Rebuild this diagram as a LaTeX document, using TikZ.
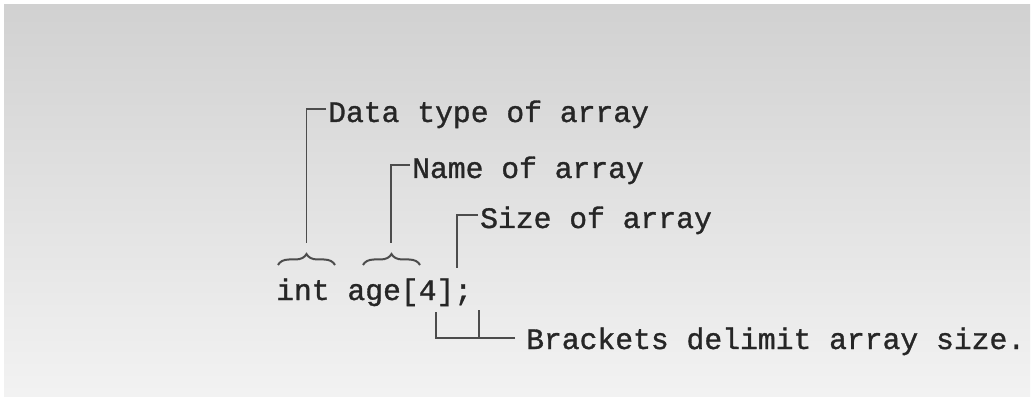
\documentclass[tikz,border=0pt]{standalone}
\usepackage{fontspec}
\newfontfamily\codefont[FakeBold=1.1]{Liberation Mono}
\usetikzlibrary{decorations.pathreplacing}
\begin{document}
\begin{tikzpicture}[x=1pt, y=-1pt,
    code/.style = {anchor=base west, inner sep=0pt, text=black!85,
                   font=\codefont\fontsize{29.7}{32}\selectfont},
    lead/.style = {draw=black!70, line width=1.8pt},
    curly/.style = {lead, line width=2pt, decorate, decoration={brace, amplitude=11pt}}]
    % Background
    \fill[white] (0,0) rectangle (1031,398);
    \shade[top color=black!18, bottom color=black!5] (4,5) rectangle (1030,396);
    \useasboundingbox (0,0) rectangle (1031,398);

    % Declaration and labels
    \node[code] (decl)  at (276,300) {int age[4];};
    \node[code] (dtype) at (328,122) {Data type of array};
    \node[code] (aname) at (412,178) {Name of array};
    \node[code] (asize) at (480,228) {Size of array};
    \node[code] (brk)   at (526,349) {Brackets delimit array size.};

    % Free ends of the leaders
    \coordinate (t1) at (306.5,243);
    \coordinate (t2) at (391,243);
    \coordinate (t3) at (456.7,268);
    \coordinate (lb) at (435.7,311.7);
    \coordinate (rb) at (479.3,310);
    \coordinate (rbf) at (479.3,338.3);

    % Braces
    \draw[curly] (278,265) -- (335,265);
    \draw[curly] (363,265) -- (420,265);

    % Leaders
    \draw[lead] ([xshift=-2pt,yshift=13pt]dtype.base west) -| (t1);
    \draw[lead] ([xshift=-2pt,yshift=13pt]aname.base west) -| (t2);
    \draw[lead] ([xshift=-2pt,yshift=13pt]asize.base west) -| (t3);
    \draw[lead] ([xshift=-11pt,yshift=10.7pt]brk.base west) -| (lb);
    \draw[lead] (rb) -- (rbf);
\end{tikzpicture}
\end{document}
